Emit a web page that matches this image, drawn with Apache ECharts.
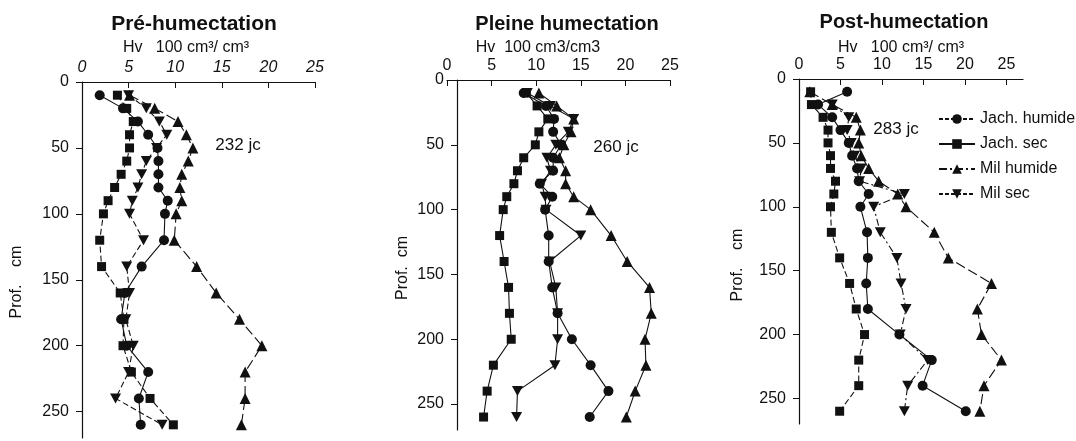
<!DOCTYPE html>
<html>
<head>
<meta charset="utf-8">
<script src="https://cdn.jsdelivr.net/npm/echarts@6/dist/echarts.min.js"></script>
<style>
    html, body { margin: 0; padding: 0; background: #fff; }
    #chart { width: 1076px; height: 441px; }
</style>
</head>
<body>
<div id="chart"></div>
<script>
const depths = [10, 20, 30, 40, 50, 60, 70, 80, 90, 100, 120, 140, 160, 180, 200, 220, 240, 260];
const seriesNames = ["Jach. humide", "Jach. sec", "Mil humide", "Mil sec"];
const panelTitles = ["Pré-humectation", "Pleine humectation", "Post-humectation"];
const axisNames = ["Hv   100 cm³/ cm³", "Hv  100 cm3/cm3", "Hv   100 cm³/ cm³"];
const dayLabels = ["232 jc", "260 jc", "283 jc"];

// Pré-humectation
const preJachHumide = [1.9, 4.4, 6.0, 7.1, 8.1, 8.2, 8.2, 8.2, 9.2, 8.9, 8.8, 6.4, 4.6, 4.2, 4.8, 7.1, 6.1, 6.3];
const preJachSec = [3.8, 4.8, 5.5, 5.1, 5.1, 4.8, 4.2, 3.5, 2.8, 2.3, 1.9, 2.1, 4.1, 4.5, 4.4, 5.3, 7.3, 9.8];
const preMilHumide = [5.1, 7.8, 10.3, 11.2, 11.9, 11.4, 10.7, 10.5, 10.7, 10.1, 9.9, 12.3, 14.4, 16.9, 19.3, 17.5, 17.5, 17.1];
const preMilSec = [5.0, 6.9, 8.3, 9.1, 8.0, 6.9, 6.4, 6.0, 5.4, 5.1, 6.6, 4.8, 5.1, 4.7, 5.5, 5.0, 3.6, 8.6];

// Pleine humectation
const fullJachHumide = [8.6, 11.1, 12.0, 11.9, 12.8, 11.9, 11.9, 10.4, 11.8, 11.0, 11.4, 11.4, 11.8, 12.4, 14.0, 16.1, 18.1, 16.0];
const fullJachSec = [8.9, 10.1, 11.3, 10.3, 9.9, 8.6, 7.9, 7.5, 6.7, 6.3, 5.9, 6.4, 6.9, 7.0, 7.2, 5.2, 4.5, 4.1];
const fullMilHumide = [10.3, 12.3, 14.2, 13.9, 13.1, 12.6, 13.3, 13.3, 14.2, 16.1, 18.4, 20.2, 22.7, 22.9, 22.2, 22.3, 21.1, 20.1];
const fullMilSec = [9.0, 11.6, 14.2, 13.6, 12.2, 11.2, 11.6, 10.6, 11.0, 11.1, 15.0, 11.5, 12.2, 12.4, 12.4, 12.1, 7.9, 7.8];

// Post-humectation
const postJachHumide = [5.8, 2.3, 4.0, 5.0, 6.0, 6.4, 7.0, 7.2, 8.4, 7.4, 8.2, 8.3, 8.1, 8.3, 12.1, 16.0, 14.9, 20.1];
const postJachSec = [1.4, 1.5, 2.9, 3.5, 3.5, 3.8, 3.8, 4.4, 4.2, 3.8, 3.9, 4.9, 6.1, 6.9, 7.9, 7.2, 7.2, 4.9];
const postMilHumide = [1.3, 4.0, 6.9, 7.4, 7.2, 7.5, 8.4, 9.6, 11.9, 12.9, 16.3, 18.0, 23.2, 21.5, 22.0, 24.4, 22.3, 21.8];
const postMilSec = [null, 4.0, 6.0, 5.8, 6.3, 6.7, 7.5, 7.3, 12.7, 9.0, 9.8, 11.8, 12.3, 12.9, 12.2, 15.5, 13.1, 12.7];

const panels = [
    [preJachHumide, preJachSec, preMilHumide, preMilSec],
    [fullJachHumide, fullJachSec, fullMilHumide, fullMilSec],
    [postJachHumide, postJachSec, postMilHumide, postMilSec]
];

const font = "Liberation Sans, Arial, sans-serif";
const ink = "#111";

const grids = [
    { left: 82, top: 82, width: 233, height: 356 },
    { left: 447, top: 80, width: 223, height: 350 },
    { left: 799, top: 79, width: 224, height: 345 }
];
const xMax = [25, 25, 27];
// panel 2 of the scan has its depth axis drawn a little right of x = 0
const yOffsets = [0, -10, 0];

const symbols = [
    { symbol: "circle", symbolSize: 10 },
    { symbol: "rect", symbolSize: 9 },
    { symbol: "triangle", symbolSize: 11 },
    { symbol: "path://M0,0 L10,0 L5,9 Z", symbolSize: [11, 10] }
];

// line type per panel and per series
const lineTypes = [
    ["solid", [6, 3], [10, 4], [6, 3]],
    ["solid", "solid", "solid", "solid"],
    ["solid", [6, 3], [10, 4], [7, 3, 2, 3]]
];
const legendLineTypes = [[4, 2], "solid", [8, 3, 2, 3], [4, 2]];

const chart = echarts.init(document.getElementById("chart"));

const xAxes = grids.map((g, i) => ({
    type: "value",
    gridIndex: i,
    position: "top",
    min: 0,
    max: xMax[i],
    interval: 5,
    splitLine: { show: false },
    axisLine: { show: true, lineStyle: { color: ink, width: 1.2 } },
    axisTick: { show: true, inside: true, length: 6, lineStyle: { color: ink } },
    axisLabel: {
        color: ink,
        fontSize: 16,
        fontFamily: font,
        fontStyle: i === 0 ? "italic" : "normal",
        margin: 6,
        showMaxLabel: i !== 2
    }
}));

const yAxes = grids.map((g, i) => ({
    type: "value",
    gridIndex: i,
    inverse: true,
    min: 0,
    max: 270,
    interval: 50,
    offset: yOffsets[i],
    splitLine: { show: false },
    axisLine: { show: true, lineStyle: { color: ink, width: 1.2 } },
    axisTick: { show: true, length: 6, lineStyle: { color: ink } },
    axisLabel: { color: ink, fontSize: 16, fontFamily: font, margin: 13, showMaxLabel: false }
}));

const series = [];
panels.forEach((values, p) => {
    values.forEach((vals, s) => {
        series.push({
            name: seriesNames[s],
            type: "line",
            xAxisIndex: p,
            yAxisIndex: p,
            symbol: symbols[s].symbol,
            symbolSize: symbols[s].symbolSize,
            connectNulls: false,
            itemStyle: { color: ink },
            lineStyle: { color: ink, width: 1.1, type: lineTypes[p][s] },
            data: depths.map((d, k) => [vals[k], d])
        });
    });
});

const textEl = (text, x, y, size, weight, rotation) => ({
    type: "text",
    x: x,
    y: y,
    rotation: rotation || 0,
    style: {
        text: text,
        fill: ink,
        font: `${weight || "normal"} ${size}px ${font}`,
        textAlign: "center",
        textVerticalAlign: "middle"
    }
});

const graphics = [
    textEl(panelTitles[0], 194, 24, 21, "bold"),
    textEl(panelTitles[1], 567, 24, 20, "bold"),
    textEl(panelTitles[2], 904, 22, 20, "bold"),
    textEl(axisNames[0], 186, 48, 16),
    textEl(axisNames[1], 538, 48, 16),
    textEl(axisNames[2], 901, 48, 16),
    textEl("Prof.    cm", 17, 282, 16, "normal", Math.PI / 2),
    textEl("Prof.  cm", 403, 268, 16, "normal", Math.PI / 2),
    textEl("Prof.    cm", 738, 265, 16, "normal", Math.PI / 2),
    textEl(dayLabels[0], 238, 145, 17),
    textEl(dayLabels[1], 616, 147, 17),
    textEl(dayLabels[2], 896, 129, 17)
];

chart.setOption({
    animation: false,
    backgroundColor: "#fff",
    grid: grids,
    xAxis: xAxes,
    yAxis: yAxes,
    legend: {
        orient: "vertical",
        left: 933,
        top: 106,
        itemWidth: 36,
        itemHeight: 12,
        itemGap: 9,
        textStyle: { color: ink, fontSize: 16, fontFamily: font },
        data: seriesNames.map((name, i) => ({
            name: name,
            lineStyle: { type: legendLineTypes[i], color: ink }
        }))
    },
    graphic: graphics,
    series: series
});
</script>
</body>
</html>
